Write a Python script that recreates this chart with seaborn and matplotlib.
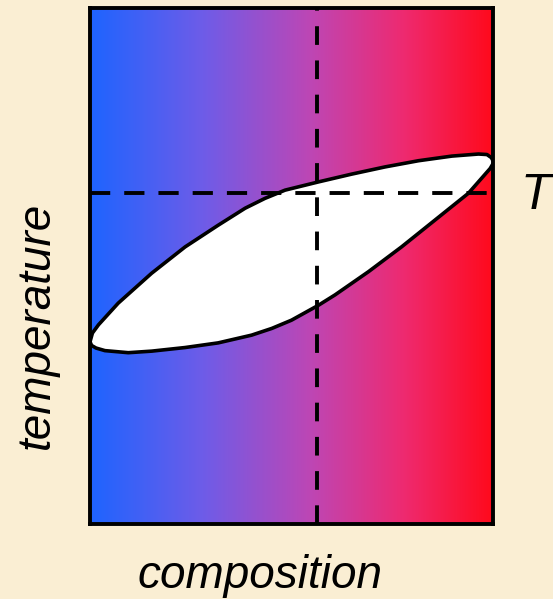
import numpy as np
import pandas as pd
import matplotlib
matplotlib.use("Agg")
import matplotlib.pyplot as plt
from matplotlib.colors import LinearSegmentedColormap
import seaborn as sns

# ---- data (composition 0..1, temperature 0..1) ----
upper_x = [0.000, 0.006, 0.021, 0.070, 0.153, 0.236, 0.318, 0.385, 0.434, 0.484, 0.567, 0.649, 0.732, 0.815, 0.898, 0.964, 0.985, 0.996, 1.002]
upper_y = [0.353, 0.370, 0.386, 0.428, 0.486, 0.537, 0.579, 0.612, 0.631, 0.647, 0.663, 0.678, 0.692, 0.704, 0.713, 0.717, 0.716, 0.710, 0.701]
lower_x = [1.002, 0.993, 0.939, 0.856, 0.773, 0.691, 0.608, 0.567, 0.500, 0.451, 0.401, 0.318, 0.236, 0.153, 0.095, 0.037, 0.015, 0.004, 0.000]
lower_y = [0.701, 0.689, 0.641, 0.589, 0.537, 0.489, 0.444, 0.424, 0.395, 0.379, 0.366, 0.351, 0.342, 0.335, 0.332, 0.336, 0.341, 0.346, 0.353]
comp_x0 = 0.564   # vertical dashed line (composition)
temp_T1 = 0.641   # horizontal dashed line (T1)
x_label = "composition"
y_label = "temperature"
t_label = r"$T_1$"

sns.set_theme(style="white")
plt.rcParams["font.family"] = ["Liberation Sans", "DejaVu Sans"]
plt.rcParams["mathtext.fontset"] = "custom"
plt.rcParams["mathtext.it"] = "Liberation Sans:italic"
plt.rcParams["mathtext.rm"] = "Liberation Sans"

bg = "#FAEED3"
fig = plt.figure(figsize=(5.53, 5.99), dpi=100, facecolor=bg)
ax = fig.add_axes([90/553, 1-524/599, 403/553, 516/599])
ax.set_xlim(0, 1)
ax.set_ylim(0, 1)

cmap = LinearSegmentedColormap.from_list("br", [
    (0.00, (30/255, 100/255, 255/255)),
    (0.28, (110/255, 92/255, 232/255)),
    (0.55, (190/255, 70/255, 180/255)),
    (0.78, (238/255, 42/255, 112/255)),
    (1.00, (255/255, 10/255, 28/255)),
])
grad = np.linspace(0, 1, 512).reshape(1, -1)
ax.imshow(grad, cmap=cmap, extent=[0, 1, 0, 1], aspect="auto", zorder=0)

lens = pd.DataFrame({"x": upper_x + lower_x[1:], "y": upper_y + lower_y[1:]})
ax.fill(lens["x"], lens["y"], color="white", zorder=2)
sns.lineplot(data=lens, x="x", y="y", sort=False, estimator=None, color="black",
             linewidth=2.6, ax=ax, zorder=3, solid_joinstyle="round", solid_capstyle="round")

ax.axvline(comp_x0, color="black", linewidth=2.8, dashes=(4.8, 4.0), zorder=4)
ax.axhline(temp_T1, color="black", linewidth=2.8, dashes=(5.2, 3.6), zorder=4)

for s in ax.spines.values():
    s.set_visible(True)
    s.set_color("black")
    s.set_linewidth(2.8)
    s.set_zorder(5)
ax.set_xticks([])
ax.set_yticks([])
ax.set_xlabel("")
ax.set_ylabel("")

fig.text(260/553, 1-588/599, x_label, style="italic", fontsize=33, color="black",
         ha="center", va="baseline")
fig.text(37/553, 1-325/599, y_label, style="italic", fontsize=33, color="black",
         rotation=90, ha="center", va="center")
fig.text(520/553, 1-196/599, t_label, fontsize=36, color="black", ha="left", va="center")

fig.savefig("out.png", dpi=100, facecolor=bg)
